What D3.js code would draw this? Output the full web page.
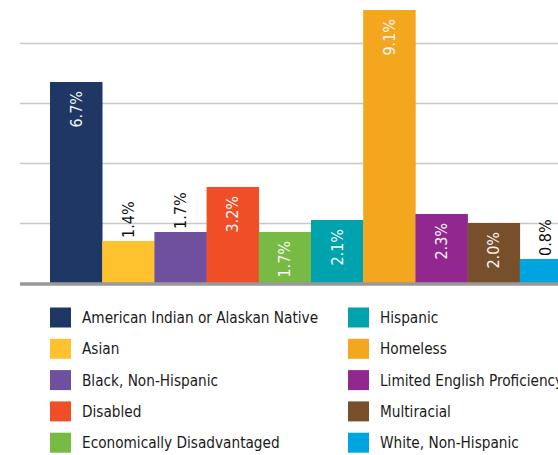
<!DOCTYPE html>
<html>
<head>
<meta charset="utf-8">
<script src="https://cdn.jsdelivr.net/npm/d3@7"></script>
<style>
  body { margin: 0; background: #fff; }
  svg { display: block; }
</style>
</head>
<body>
<svg id="chart"></svg>
<script>
const categories = [
    "American Indian or Alaskan Native",
    "Asian",
    "Black, Non-Hispanic",
    "Disabled",
    "Economically Disadvantaged",
    "Hispanic",
    "Homeless",
    "Limited English Proficiency",
    "Multiracial",
    "White, Non-Hispanic"
];
const values = [6.7, 1.4, 1.7, 3.2, 1.7, 2.1, 9.1, 2.3, 2.0, 0.8];
const colors = ["#1e3765", "#fdc22e", "#6f509e", "#f04e27", "#78bb44",
                "#00a2ad", "#f2a71f", "#92278f", "#774f2b", "#00a5df"];
const gridTicks = [2, 4, 6, 8];

// labels drawn above the bar instead of inside
const outsideLabels = new Set(["Asian", "Black, Non-Hispanic", "White, Non-Hispanic"]);

const width = 558, height = 455;
const font = "'DejaVu Sans Condensed', 'DejaVu Sans', sans-serif";

const svg = d3.select("#chart")
    .attr("width", width)
    .attr("height", height);

const data = categories.map((c, i) => ({ name: c, value: values[i], color: colors[i] }));

const x = d3.scaleBand()
    .domain(categories)
    .range([50, 572])
    .padding(0);

const y = d3.scaleLinear()
    .domain([0, 8])
    .range([283, 43]);

// gridlines
svg.append("g")
    .selectAll("line")
    .data(gridTicks)
    .join("line")
    .attr("x1", 20)
    .attr("x2", width)
    .attr("y1", d => y(d) + 0.5)
    .attr("y2", d => y(d) + 0.5)
    .style("stroke", "#c8c8c8")
    .style("stroke-width", 1.3);

// bars
svg.append("g")
    .selectAll("rect")
    .data(data)
    .join("rect")
    .attr("x", d => x(d.name))
    .attr("y", d => y(d.value))
    .attr("width", x.bandwidth() + 0.3)
    .attr("height", d => y(0) - y(d.value))
    .style("fill", d => d.color);

// baseline
svg.append("line")
    .attr("x1", 20)
    .attr("x2", width)
    .attr("y1", y(0) + 1)
    .attr("y2", y(0) + 1)
    .style("stroke", "#999")
    .style("stroke-width", 3.4);

// value labels, rotated
svg.append("g")
    .selectAll("text")
    .data(data)
    .join("text")
    .attr("transform", d => {
        const cx = x(d.name) + x.bandwidth() / 2;
        const ty = outsideLabels.has(d.name) ? y(d.value) - 3 : y(d.value) + 9;
        return `translate(${cx}, ${ty}) rotate(-90)`;
    })
    .attr("text-anchor", d => outsideLabels.has(d.name) ? "start" : "end")
    .attr("dominant-baseline", "central")
    .attr("font-family", font)
    .attr("font-size", "16px")
    .style("fill", d => outsideLabels.has(d.name) ? "#111" : "#f4f4f4")
    .text(d => d.value.toFixed(1) + "%");

// legend, two columns of five
const legendCols = [50, 348];
const legend = svg.append("g")
    .selectAll("g")
    .data(data)
    .join("g")
    .attr("transform", (d, i) => `translate(${legendCols[Math.floor(i / 5)]}, ${307.5 + (i % 5) * 31.3})`);

legend.append("rect")
    .attr("width", 21)
    .attr("height", 20)
    .style("fill", d => d.color);

legend.append("text")
    .attr("x", 32)
    .attr("y", 15.5)
    .attr("font-family", font)
    .attr("font-size", "15.2px")
    .style("fill", "#1a1a1a")
    .text(d => d.name);
</script>
</body>
</html>
